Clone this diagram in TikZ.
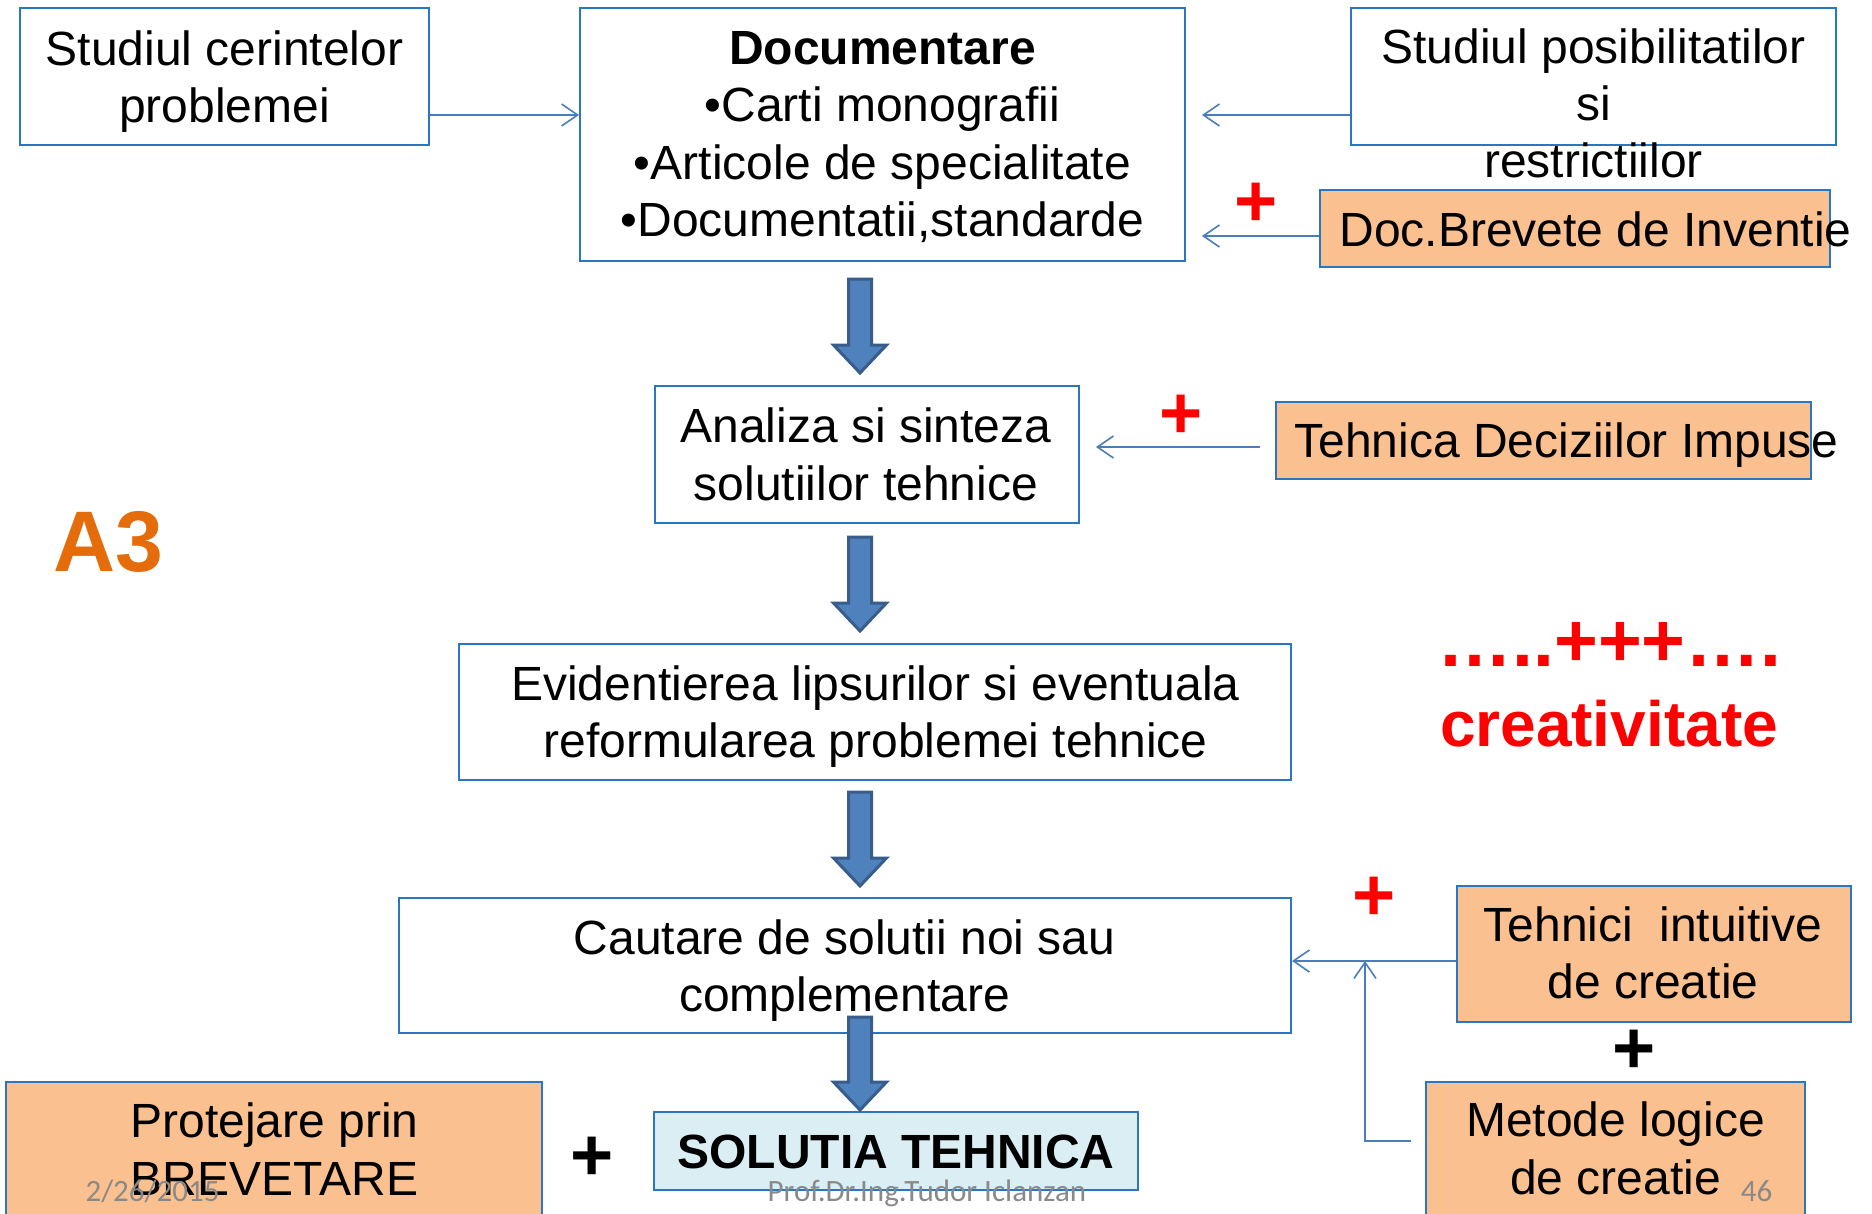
\documentclass[tikz,border=0pt]{standalone}
\usepackage{fontspec}
\setmainfont{Liberation Sans}
\newfontfamily\footfont{Carlito}
\usetikzlibrary{arrows.meta,calc}
\definecolor{boxblue}{RGB}{40,118,196}
\definecolor{linkblue}{RGB}{74,126,187}
\definecolor{arrfill}{RGB}{79,129,189}
\definecolor{arrdraw}{RGB}{56,93,138}
\definecolor{orfill}{RGB}{250,192,144}
\definecolor{lbfill}{RGB}{219,238,244}
\definecolor{athree}{RGB}{228,108,10}
\definecolor{footgray}{RGB}{137,137,137}
\newcommand\blockarrow[4]{%
  \filldraw[bigarr] let \p1=(#1.south), \p2=(#2.north), \p3=(axis) in
    ({\x3-5.75pt},{\y1-1pt*(#3)}) -- ({\x3-5.75pt},{\y2+1pt*(#4)+14pt})
    -- ({\x3-13.25pt},{\y2+1pt*(#4)+14pt}) -- ({\x3},{\y2+1pt*(#4)})
    -- ({\x3+13.25pt},{\y2+1pt*(#4)+14pt}) -- ({\x3+5.75pt},{\y2+1pt*(#4)+14pt})
    -- ({\x3+5.75pt},{\y1-1pt*(#3)}) -- cycle;}
\tikzset{
  box/.style={draw=boxblue, line width=1pt, inner sep=0pt, fill=white},
  obox/.style={box, fill=orfill},
  txt/.style={inner sep=0pt, align=center, font=\fontsize{24}{28.7}\selectfont},
  conn/.style={draw=linkblue, line width=0.8pt, -{Straight Barb[length=8pt,width=11pt]}},
  bigarr/.style={fill=arrfill, draw=arrdraw, line width=1.5pt, line join=miter},
  plussign/.style={inner sep=0pt, anchor=base, font=\bfseries\fontsize{37}{37}\selectfont},
  foot/.style={inner sep=0pt, anchor=base, text=footgray, font=\footfont\fontsize{15.5}{15.5}\selectfont}
}
\begin{document}
\begin{tikzpicture}[x=0.5pt,y=-0.5pt]
\useasboundingbox (0,0) rectangle (1872,1214);
\fill[white] (0,0) rectangle (1872,1214);
\begin{scope}
\clip (0,0) rectangle (1872,1214);
\coordinate (axis) at (860,0);
% boxes
\node[box, minimum width=204.5pt, minimum height=68.5pt] (b1) at (224.5,76.5) {};
\node[box, minimum width=302.5pt, minimum height=126.5pt] (doc) at (882.5,134.5) {};
\node[box, minimum width=242.5pt, minimum height=68.5pt] (pos) at (1593.5,76.5) {};
\node[obox, minimum width=255pt, minimum height=38.5pt] (brev) at (1575,228.5) {};
\node[box, minimum width=212pt, minimum height=68.5pt] (ana) at (867,454.5) {};
\node[obox, minimum width=267.5pt, minimum height=38.5pt] (tdi) at (1543.5,440.5) {};
\node[box, minimum width=416pt, minimum height=68pt] (evi) at (875,712) {};
\node[box, minimum width=446pt, minimum height=67.5pt] (cau) at (845,965.5) {};
\node[obox, minimum width=197pt, minimum height=68pt] (teh) at (1654,954) {};
\node[obox, minimum width=189.5pt, minimum height=68pt] (met) at (1615.5,1150) {};
\node[obox, minimum width=268pt, minimum height=68pt] (pro) at (274,1150) {};
\node[box, fill=lbfill, minimum width=242pt, minimum height=39pt] (sol) at (896,1151) {};
% texts
\node[txt] (b1t) at (224.5,81.6) {Studiul cerintelor\\problemei};
\node[txt] (doct) at (882.5,137) {\textbf{Documentare}\\•Carti monografii\\•Articole de specialitate\\•Documentatii,standarde};
\node[txt] (post) at (1593.5,103.3) {Studiul posibilitatilor\\si\\restrictiilor};
\node[txt, anchor=base] (brevt) at (1595.5,247) {Doc.Brevete de Inventie};
\node[txt] (anat) at (866,454.3) {Analiza si sinteza\\solutiilor tehnice};
\node[txt, anchor=base] (tdit) at (1566.5,457) {Tehnica Deciziilor Impuse};
\node[txt] (evit) at (875.5,716.3) {Evidentierea lipsurilor si eventuala\\reformularea problemei tehnice};
\node[txt] (caut) at (844.5,970.7) {Cautare de solutii noi sau\\complementare};
\node[txt] (teht) at (1653,952.7) {Tehnici\ \ intuitive\\de creatie};
\node[txt] (mett) at (1615.5,1148.3) {Metode logice\\de creatie};
\node[txt] (prot) at (274.5,1149) {Protejare prin\\BREVETARE};
\node[txt, anchor=base] (solt) at (896,1168) {\textbf{SOLUTIA TEHNICA}};
\node[inner sep=0pt, anchor=base, text=athree, font=\bfseries\fontsize{43}{43}\selectfont] (a3) at (108,571) {A3};
\node[inner sep=0pt, anchor=base, text=red, font=\bfseries\fontsize{37.5}{37.5}\selectfont] (dots) at (1609.5,666) {…..+++….};
\node[inner sep=0pt, anchor=base, text=red, font=\bfseries\fontsize{32}{32}\selectfont] (creat) at (1609,746) {creativitate};
% plus signs
\node[plussign, text=red] (p1) at (1256,227) {+};
\node[plussign, text=red] (p2) at (1181,438.5) {+};
\node[plussign, text=red] (p3) at (1374,920) {+};
\node[plussign, text=black] (p4) at (592,1180) {+};
\node[plussign, text=black] (p5) at (1634.5,1073.5) {+};
% thin connectors
\coordinate (c1) at ([yshift=15.5pt]b1.south east);
\draw[conn] (c1) -- (c1 -| doc.west);
\coordinate (c2) at ([yshift=15.5pt]pos.south west);
\draw[conn, shorten >=8pt] (c2) -- (c2 -| doc.east);
\coordinate (c3) at ([yshift=-3.75pt]brev.west);
\draw[conn, shorten >=8pt] (c3) -- (c3 -| doc.east);
\coordinate (c4) at ([yshift=-3.25pt]tdi.west);
\draw[conn, shorten <=7.5pt, shorten >=8pt] (c4) -- (c4 -| ana.east);
\coordinate (c5) at ([yshift=-3.5pt]teh.west);
\draw[conn] (c5) -- (c5 -| cau.east);
\path (c5) ++(-91,0) coordinate (junc);
\coordinate (c6) at ([yshift=-30pt]met.north west);
\draw[conn, shorten <=7pt] (c6) -| (junc);
% block arrows
\blockarrow{doc}{ana}{8.5}{6}
\blockarrow{ana}{evi}{6.5}{6}
\blockarrow{evi}{cau}{5.5}{5.5}
\blockarrow{cau}{sol}{-8.5}{0.5}
% footer
\node[foot] (date) at (152.5,1201) {2/26/2015};
\node[foot] (auth) at (927,1201) {Prof.Dr.Ing.Tudor Iclanzan};
\node[foot] (pg) at (1756.5,1201) {46};
\end{scope}
\end{tikzpicture}
\end{document}
